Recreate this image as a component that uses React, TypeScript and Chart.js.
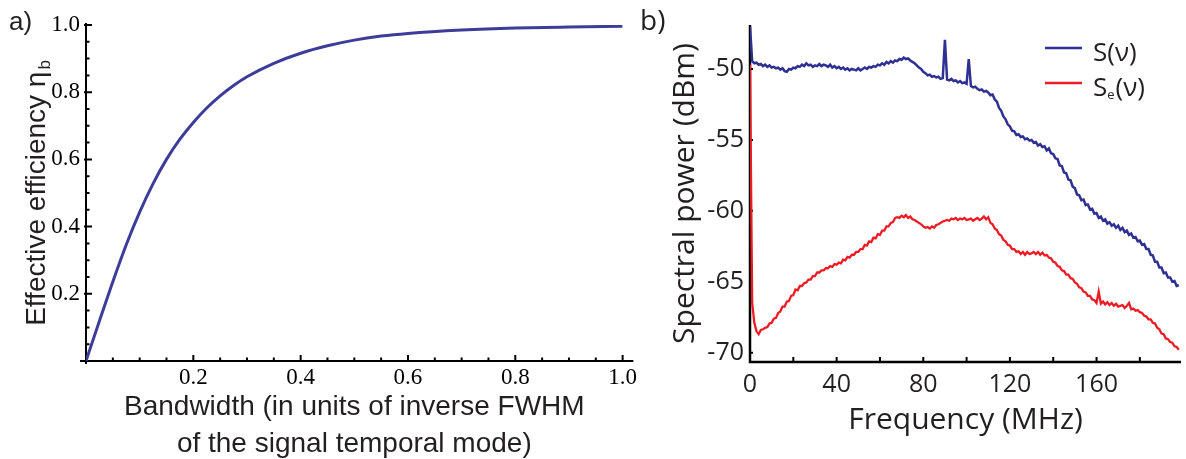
import React, { useEffect, useRef } from "react";
import { Chart, registerables } from "chart.js";

Chart.register(...registerables);

// ---------- Panel a: effective efficiency vs bandwidth ----------
const bandwidth = [0, 0.025, 0.05, 0.075, 0.1, 0.125, 0.15, 0.175, 0.2, 0.225, 0.25, 0.275, 0.3, 0.35, 0.4, 0.45, 0.5, 0.55, 0.6, 0.7, 0.8, 0.9, 1.0];
const efficiency = [0, 0.119, 0.236, 0.346, 0.443, 0.528, 0.6, 0.66, 0.71, 0.753, 0.789, 0.82, 0.846, 0.886, 0.916, 0.938, 0.955, 0.967, 0.975, 0.985, 0.991, 0.994, 0.996];
const aMajorTicks = [0.2, 0.4, 0.6, 0.8, 1.0];
const aMinorTicks = [0.05, 0.1, 0.15, 0.25, 0.3, 0.35, 0.45, 0.5, 0.55, 0.65, 0.7, 0.75, 0.85, 0.9, 0.95];

// ---------- Panel b: spectral power vs frequency ----------
const FREQ_START_MHZ = 0;
const FREQ_STEP_MHZ = 1;
const spectrumS = [
  -47.0, -49.45, -49.6, -49.55, -49.7, -49.65, -49.8, -49.7, -49.85, -49.75,
  -49.9, -49.85, -49.95, -49.9, -50.05, -49.95, -50.15, -50.2, -50.0, -50.05,
  -49.9, -49.95, -49.8, -49.85, -49.7, -49.8, -49.6, -49.75, -49.7, -49.85,
  -49.75, -49.8, -49.65, -49.8, -49.7, -49.75, -49.85, -49.7, -49.9, -49.8,
  -49.95, -49.85, -50.0, -49.9, -50.05, -49.95, -50.1, -50.0, -50.05, -50.1,
  -49.95, -50.1, -50.0, -49.9, -50.0, -49.85, -49.9, -49.8, -49.85, -49.7,
  -49.75, -49.6, -49.7, -49.5, -49.6, -49.45, -49.55, -49.4, -49.45, -49.3,
  -49.35, -49.2, -49.3, -49.25, -49.4, -49.5, -49.6, -49.75, -49.9, -50.0,
  -50.2, -50.3, -50.45, -50.4, -50.55, -50.5, -50.6, -50.55, -50.7, -50.65,
  -47.95, -50.75, -50.8, -50.7, -50.85, -50.8, -50.95, -50.85, -51.0, -50.95,
  -51.05, -49.3, -51.2, -51.3, -51.25, -51.4, -51.5, -51.45, -51.6, -51.55,
  -51.65, -51.85, -51.8, -52.15, -52.3, -52.75, -52.95, -53.35, -53.55, -53.9,
  -54.05, -54.35, -54.4, -54.65, -54.6, -54.8, -54.75, -54.95, -54.9, -55.05,
  -55.0, -55.2, -55.15, -55.4, -55.3, -55.5, -55.45, -55.75, -55.6, -55.95,
  -56.0, -56.3, -56.35, -56.8, -56.85, -57.3, -57.35, -57.8, -57.85, -58.3,
  -58.4, -58.85, -58.9, -59.25, -59.2, -59.6, -59.55, -59.9, -59.85, -60.2,
  -60.15, -60.5, -60.4, -60.7, -60.6, -60.9, -60.8, -61.05, -60.95, -61.2,
  -61.05, -61.35, -61.2, -61.5, -61.4, -61.7, -61.6, -61.9, -61.85, -62.15,
  -62.1, -62.4, -62.35, -62.7, -62.7, -63.1, -63.15, -63.6, -63.6, -64.0,
  -64.0, -64.4, -64.35, -64.7, -64.7, -65.0, -64.95, -65.3, -65.25,
];
const spectrumSe = [
  -49.7, -66.5, -67.9, -68.5, -68.7, -68.4, -68.35, -68.25, -68.2, -67.95,
  -67.9, -67.6, -67.55, -67.2, -67.1, -66.75, -66.75, -66.4, -66.35, -66.0,
  -65.95, -65.55, -65.6, -65.3, -65.3, -65.1, -65.05, -64.85, -64.85, -64.6,
  -64.6, -64.35, -64.35, -64.2, -64.2, -64.05, -64.05, -63.9, -63.95, -63.75,
  -63.8, -63.65, -63.7, -63.45, -63.5, -63.25, -63.3, -63.1, -63.1, -62.9,
  -62.9, -62.7, -62.7, -62.4, -62.45, -62.15, -62.2, -61.9, -61.95, -61.65,
  -61.7, -61.4, -61.4, -61.1, -61.1, -60.85, -60.8, -60.5, -60.45, -60.5,
  -60.35, -60.45, -60.3, -60.5, -60.4, -60.6, -60.65, -60.75, -60.85, -60.95,
  -61.1, -61.2, -61.15, -61.25, -61.1, -61.2, -61.0, -60.95, -60.85, -60.75,
  -60.7, -60.65, -60.7, -60.55, -60.6, -60.5, -60.65, -60.55, -60.6, -60.5,
  -60.65, -60.6, -60.55, -60.7, -60.6, -60.5, -60.65, -60.55, -60.4, -60.6,
  -60.45, -60.85, -60.95, -61.25, -61.35, -61.65, -61.75, -62.05, -62.15, -62.4,
  -62.45, -62.7, -62.7, -62.9, -62.85, -63.05, -62.9, -63.1, -62.9, -63.05,
  -63.0, -62.9, -63.05, -62.9, -63.1, -62.95, -63.15, -63.1, -63.3, -63.35,
  -63.6, -63.65, -63.9, -63.95, -64.2, -64.25, -64.5, -64.5, -64.75, -64.8,
  -65.05, -65.15, -65.4, -65.45, -65.7, -65.75, -66.0, -66.0, -66.25, -66.3,
  -66.5, -65.7, -66.55, -66.4, -66.6, -66.45, -66.65, -66.5, -66.7, -66.55,
  -66.75, -66.7, -66.65, -66.85, -66.7, -66.5, -66.95, -66.9, -67.05, -67.0,
  -67.15, -67.2, -67.4, -67.45, -67.65, -67.65, -67.9, -67.95, -68.25, -68.35,
  -68.65, -68.7, -69.0, -69.05, -69.25, -69.3, -69.55, -69.6, -69.8,
];
const bFreqTicks = [0, 40, 80, 120, 160];
const bFreqTickMarks = [20, 40, 60, 80, 100, 120, 140, 160, 180];
const bPowerTicks = [-70, -65, -60, -55, -50];
const seriesNames = [
  { main: "S", sub: "", tail: "(\u03bd)" },
  { main: "S", sub: "e", tail: "(\u03bd)" },
];

const BLUE_A = "#3D3D99";
const BLUE_B = "#2E3192";
const RED_B = "#ED1C24";
const TEXT = "#231F20";

const SERIF = '"Liberation Serif", "Times New Roman", serif';
const SANS_A = '"Liberation Sans", Arial, sans-serif';
const SANS_B = '"Open Sans", "Noto Sans", sans-serif';

const axesA = {
  id: "axesA",
  beforeDatasetsDraw(chart: any) {
    const { ctx, scales } = chart;
    const x = scales.x, y = scales.y;
    const x0 = x.getPixelForValue(0);
    const y0 = y.getPixelForValue(0);
    ctx.save();
    ctx.strokeStyle = "#000";
    ctx.lineWidth = 2;
    ctx.beginPath();
    ctx.moveTo(x0 - 6, y0);
    ctx.lineTo(x.getPixelForValue(1.02), y0);
    ctx.moveTo(x0, y0 + 3);
    ctx.lineTo(x0, y.getPixelForValue(1.0) - 2);
    ctx.stroke();
    ctx.beginPath();
    aMajorTicks.forEach((v) => {
      const px = x.getPixelForValue(v);
      ctx.moveTo(px, y0);
      ctx.lineTo(px, y0 - 6);
      const py = y.getPixelForValue(v);
      ctx.moveTo(x0 - 2, py);
      ctx.lineTo(x0 + 6, py);
    });
    aMinorTicks.forEach((v) => {
      const px = x.getPixelForValue(v);
      ctx.moveTo(px, y0);
      ctx.lineTo(px, y0 - 3.5);
      const py = y.getPixelForValue(v);
      ctx.moveTo(x0, py);
      ctx.lineTo(x0 + 3.5, py);
    });
    ctx.stroke();
    ctx.restore();
  },
  afterDraw(chart: any) {
    const { ctx, scales } = chart;
    const y = scales.y;
    ctx.save();
    ctx.fillStyle = TEXT;
    ctx.font = `26px ${SANS_A}`;
    ctx.textBaseline = "alphabetic";
    ctx.textAlign = "left";
    ctx.fillText("a)", 9, 30);
    // rotated y title with subscript
    const main = "Effective efficiency \u03b7";
    ctx.font = `28px ${SANS_A}`;
    const wMain = ctx.measureText(main).width;
    ctx.font = `17px ${SANS_A}`;
    const wSub = ctx.measureText("b").width;
    const total = wMain + 2 + wSub;
    const cy = (y.getPixelForValue(0) + y.getPixelForValue(1)) / 2;
    ctx.translate(45, cy);
    ctx.rotate(-Math.PI / 2);
    ctx.font = `28px ${SANS_A}`;
    ctx.fillText(main, -total / 2, 0);
    ctx.font = `17px ${SANS_A}`;
    ctx.fillText("b", -total / 2 + wMain + 2, 5);
    ctx.restore();
  },
};

const axesB = {
  id: "axesB",
  beforeDatasetsDraw(chart: any) {
    const { ctx, scales } = chart;
    const x = scales.x, y = scales.y;
    const xl = x.getPixelForValue(0);
    const yb = y.getPixelForValue(y.min);
    ctx.save();
    ctx.strokeStyle = "#000";
    ctx.lineWidth = 2.5;
    ctx.beginPath();
    ctx.moveTo(xl, yb + 1);
    ctx.lineTo(xl, y.getPixelForValue(y.max));
    ctx.moveTo(xl - 1, yb);
    ctx.lineTo(x.getPixelForValue(x.max), yb);
    ctx.stroke();
    ctx.lineWidth = 2;
    ctx.beginPath();
    bFreqTickMarks.forEach((v) => {
      const px = x.getPixelForValue(v);
      ctx.moveTo(px, yb);
      ctx.lineTo(px, yb - 5);
    });
    bPowerTicks.forEach((v) => {
      const py = y.getPixelForValue(v);
      ctx.moveTo(xl, py);
      ctx.lineTo(xl + 3, py);
    });
    ctx.stroke();
    ctx.restore();
  },
  afterDraw(chart: any) {
    const { ctx } = chart;
    ctx.save();
    ctx.fillStyle = TEXT;
    ctx.textAlign = "left";
    ctx.textBaseline = "alphabetic";
    ctx.font = `28px ${SANS_B}`;
    ctx.fillText("b)", 0, 30);
    const colors = [BLUE_B, RED_B];
    const lineY = [48, 83];
    seriesNames.forEach((s, i) => {
      ctx.strokeStyle = colors[i];
      ctx.lineWidth = 2.5;
      ctx.beginPath();
      ctx.moveTo(405, lineY[i]);
      ctx.lineTo(442, lineY[i]);
      ctx.stroke();
      let tx = 453;
      const base = lineY[i] + 13;
      ctx.fillStyle = TEXT;
      ctx.font = `26px ${SANS_B}`;
      ctx.fillText(s.main, tx, base);
      tx += ctx.measureText(s.main).width;
      if (s.sub) {
        ctx.font = `13px ${SANS_B}`;
        ctx.fillText(s.sub, tx, base + 3);
        tx += ctx.measureText(s.sub).width + 1;
        ctx.font = `26px ${SANS_B}`;
      }
      ctx.fillText(s.tail, tx, base);
    });
    ctx.restore();
  },
};

function makeConfigA(): any {
  return {
    type: "line",
    data: {
      datasets: [
        {
          data: bandwidth.map((b, i) => ({ x: b, y: efficiency[i] })),
          borderColor: BLUE_A,
          borderWidth: 3,
          pointRadius: 0,
          cubicInterpolationMode: "monotone",
          fill: false,
        },
      ],
    },
    options: {
      responsive: false,
      animation: false,
      devicePixelRatio: 1,
      layout: { padding: { left: 0, top: 25, right: 17, bottom: 0 } },
      plugins: { legend: { display: false }, tooltip: { enabled: false } },
      scales: {
        x: {
          type: "linear",
          min: 0,
          max: 1,
          afterBuildTicks: (s: any) => {
            s.ticks = aMajorTicks.map((v) => ({ value: v }));
          },
          afterFit: (s: any) => {
            s.height = 98;
          },
          grid: { display: false, drawTicks: false },
          border: { display: false },
          ticks: {
            font: { family: SERIF, size: 23 },
            color: "#000",
            padding: 3,
            maxRotation: 0,
            autoSkip: false,
            callback: (v: any) => Number(v).toFixed(1),
          },
          title: {
            display: true,
            text: ["Bandwidth (in units of inverse FWHM", "of the signal temporal mode)"],
            font: { family: SANS_A, size: 28, lineHeight: 1.32 },
            color: TEXT,
            padding: { top: 0, bottom: -4 },
          },
        },
        y: {
          type: "linear",
          min: 0,
          max: 1,
          afterBuildTicks: (s: any) => {
            s.ticks = aMajorTicks.map((v) => ({ value: v }));
          },
          afterFit: (s: any) => {
            s.width = 86;
          },
          grid: { display: false, drawTicks: false },
          border: { display: false },
          ticks: {
            font: { family: SERIF, size: 23 },
            color: "#000",
            padding: 6,
            autoSkip: false,
            callback: (v: any) => Number(v).toFixed(1),
          },
          title: { display: false },
        },
      },
    },
    plugins: [axesA],
  };
}

function makeConfigB(): any {
  const toPoints = (arr: number[]) => arr.map((p, i) => ({ x: FREQ_START_MHZ + i * FREQ_STEP_MHZ, y: p }));
  return {
    type: "line",
    data: {
      datasets: [
        { label: "S(\u03bd)", data: toPoints(spectrumS), borderColor: BLUE_B, borderWidth: 2.5, pointRadius: 0, tension: 0, fill: false },
        { label: "Se(\u03bd)", data: toPoints(spectrumSe), borderColor: RED_B, borderWidth: 2.3, pointRadius: 0, tension: 0, fill: false },
      ],
    },
    options: {
      responsive: false,
      animation: false,
      devicePixelRatio: 1,
      layout: { padding: { left: 0, top: 25, right: 5, bottom: 0 } },
      plugins: { legend: { display: false }, tooltip: { enabled: false } },
      scales: {
        x: {
          type: "linear",
          min: 0,
          max: 199,
          afterBuildTicks: (s: any) => {
            s.ticks = bFreqTicks.map((v) => ({ value: v }));
          },
          afterFit: (s: any) => {
            s.height = 97;
          },
          grid: { display: false, drawTicks: false },
          border: { display: false },
          ticks: {
            font: { family: SANS_B, size: 25 },
            color: TEXT,
            padding: 8,
            maxRotation: 0,
            autoSkip: false,
            callback: (v: any) => String(v),
          },
          title: {
            display: true,
            text: "Frequency (MHz)",
            font: { family: SANS_B, size: 30, lineHeight: 1.2 },
            color: TEXT,
            padding: { top: 0, bottom: 21 },
          },
        },
        y: {
          type: "linear",
          min: -70.66,
          max: -46.9,
          afterBuildTicks: (s: any) => {
            s.ticks = bPowerTicks.map((v) => ({ value: v }));
          },
          afterFit: (s: any) => {
            s.width = 110;
          },
          grid: { display: false, drawTicks: false },
          border: { display: false },
          ticks: {
            font: { family: SANS_B, size: 25 },
            color: TEXT,
            padding: 6,
            autoSkip: false,
            callback: (v: any) => String(v),
          },
          title: {
            display: true,
            text: "Spectral power (dBm)",
            font: { family: SANS_B, size: 30, lineHeight: 1.2 },
            color: TEXT,
            padding: { top: 27, bottom: 0 },
          },
        },
      },
    },
    plugins: [axesB],
  };
}

function ChartCanvas({ make, left, width }: { make: () => any; left: number; width: number }) {
  const ref = useRef<HTMLCanvasElement | null>(null);
  useEffect(() => {
    const chart = new Chart(ref.current as HTMLCanvasElement, make());
    return () => chart.destroy();
  }, []);
  return (
    <canvas
      ref={ref}
      width={width}
      height={459}
      style={{ position: "absolute", left, top: 0, width, height: 459 }}
    />
  );
}

export default function App() {
  return (
    <div style={{ position: "absolute", left: 0, top: 0, width: 1186, height: 459, background: "#fff", overflow: "hidden" }}>
      <ChartCanvas make={makeConfigA} left={0} width={640} />
      <ChartCanvas make={makeConfigB} left={640} width={546} />
    </div>
  );
}
